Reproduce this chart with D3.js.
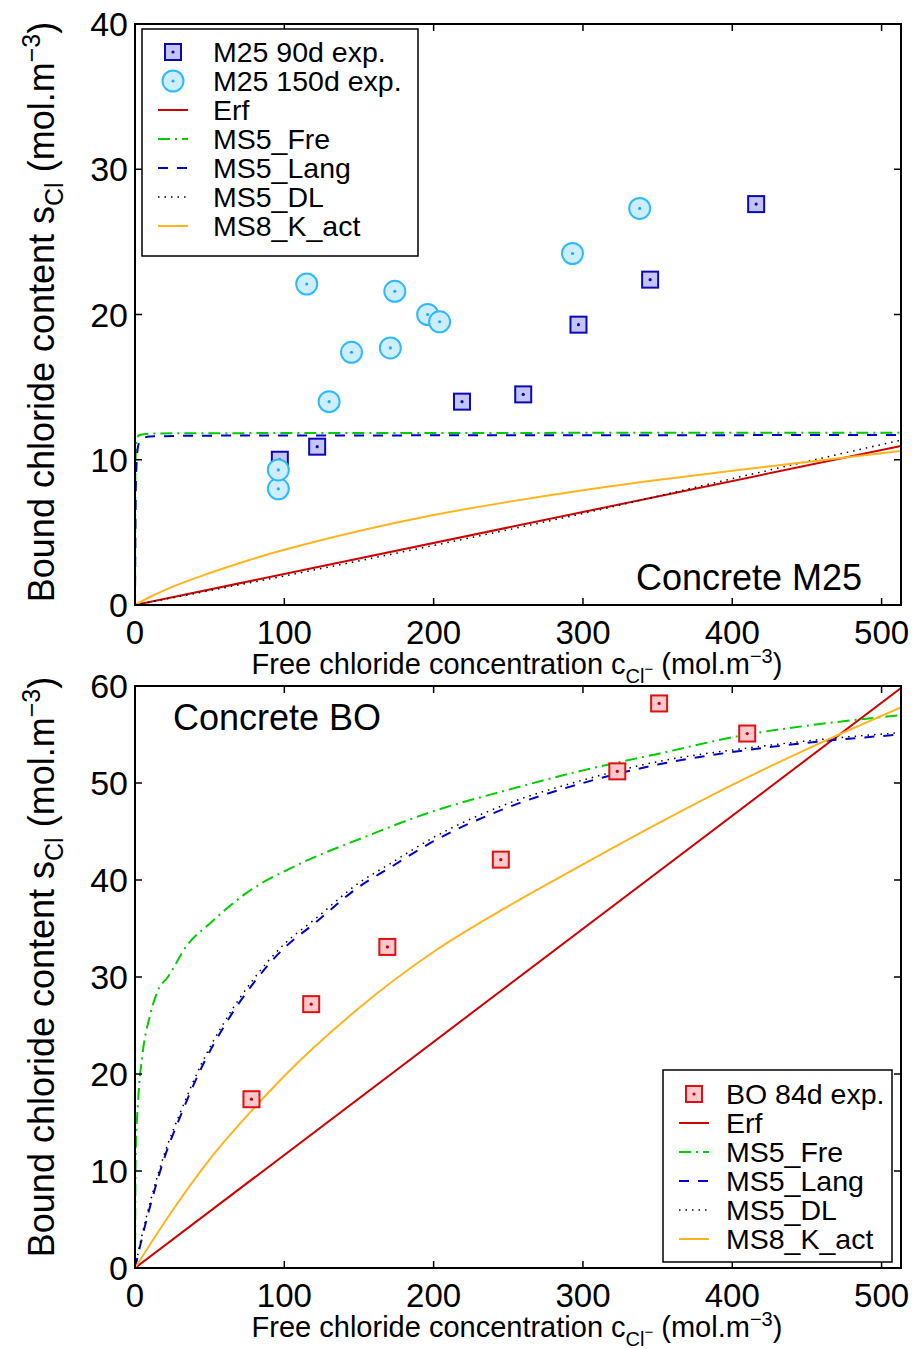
<!DOCTYPE html>
<html><head><meta charset="utf-8">
<script src="https://cdn.jsdelivr.net/npm/d3@7"></script>
<style>body{margin:0;background:#fff}svg{display:block}text{font-family:"Liberation Sans",Arial,Helvetica,sans-serif;fill:#000}</style>
</head><body>
<svg id="c" width="916" height="1349"></svg>
<script>
// ---------- data ----------
const xTicks = [0,100,200,300,400,500];
const yTicksTop = [0,10,20,30,40];
const yTicksBot = [0,10,20,30,40,50,60];

// top panel: Concrete M25
const m25_90d_x = [97,122,219,260,297,345,416];
const m25_90d_y = [10.0,10.9,14.0,14.5,19.3,22.4,27.6];
const m25_150d_x = [96,96,115,130,145,171,174,196,204,293,338];
const m25_150d_y = [8.0,9.3,22.1,14.0,17.4,17.7,21.6,20.0,19.5,24.2,27.3];

const topErf_x = [0,513];
const topErf_y = [0,10.95];
const topFre_x = [0,0.3,1,3,10,50,513];
const topFre_y = [0,9.5,11.4,11.7,11.8,11.83,11.86];
const topLang_x = [0,0.6,2,4,10,50,513];
const topLang_y = [0,8.5,10.9,11.4,11.6,11.66,11.7];
const topDL_x = [0,100,200,300,400,513];
const topDL_y = [0,2.0,4.1,6.3,8.7,11.35];
const topKact_x = [0,10,25,50,75,100,150,200,250,300,350,400,450,500,513];
const topKact_y = [0,0.55,1.25,2.2,3.05,3.8,5.1,6.2,7.1,7.9,8.6,9.25,9.85,10.45,10.6];

// bottom panel: Concrete BO
const bo84_x = [78,118,169,245,323,351,410];
const bo84_y = [17.4,27.2,33.1,42.1,51.2,58.2,55.1];

const botErf_x = [0,513];
const botErf_y = [0,59.8];
const botFre_x = [0,0.5,2,5,10,15,22,35,50,75,108,150,198,250,300,350,410,460,513];
const botFre_y = [0,12,17,22,26,28.5,30,33.3,35.5,38.7,41.5,44.2,47,49.3,51.3,53,55,56.1,57];
const botLang_x = [0,5,10,20,30,45,60,80,100,120,150,170,200,245,300,350,410,460,513];
const botLang_y = [0,3.3,6.3,11.5,15.5,20.8,25,29.5,33,35.5,39.3,41.2,44,47.2,50,51.9,53.4,54.3,55];
const botDL_x = [0,5,10,20,30,45,60,80,100,120,150,170,200,245,300,350,410,460,513];
const botDL_y = [0,3.6,6.7,11.9,15.9,21.2,25.4,29.9,33.4,35.9,39.7,41.6,44.4,47.6,50.3,52.2,53.6,54.5,55.2];
const botKact_x = [0,25,50,78,100,150,200,250,300,350,400,450,513];
const botKact_y = [0,5.9,11.2,16.2,19.8,26.8,32.6,37.3,41.6,45.8,49.8,53.5,57.8];

const legendTop = ["M25 90d exp.","M25 150d exp.","Erf","MS5_Fre","MS5_Lang","MS5_DL","MS8_K_act"];
const legendBot = ["BO 84d exp.","Erf","MS5_Fre","MS5_Lang","MS5_DL","MS8_K_act"];

// ---------- styles ----------
const styles = {
  Erf:{color:"#cc0000",dash:null},
  MS5_Fre:{color:"#00cc00",dash:"12,5,2,5"},
  MS5_Lang:{color:"#0000cc",dash:"10,9"},
  MS5_DL:{color:"#000000",dash:"1.5,5",width:1.5},
  MS8_K_act:{color:"#ffb41e",dash:null}
};
const sq90 = {stroke:"#0a0ab4",fill:"#c4c4f6",dot:"#0a0aa0"};
const circ150 = {stroke:"#30b8ff",fill:"#cdeeff",dot:"#20a8ff"};
const sqBO = {stroke:"#dd1111",fill:"#ffc8cc",dot:"#bb0000"};

const svg = d3.select("#c");
const X0=135, X1=901;
const x = d3.scaleLinear().domain([0,513]).range([X0,X1]);

function zip(xs,ys){return xs.map((v,i)=>[v,ys[i]]);}

function panel(id, top, bottom, yMax, yTicks, curves, markers){
  const y = d3.scaleLinear().domain([0,yMax]).range([bottom,top]);
  const g = svg.append("g");
  g.append("clipPath").attr("id","clip"+id).append("rect")
    .attr("x",X0).attr("y",top).attr("width",X1-X0).attr("height",bottom-top);
  const plot = g.append("g").attr("clip-path",`url(#clip${id})`);
  const line = d3.line().x(d=>x(d[0])).y(d=>y(d[1])).curve(d3.curveMonotoneX);
  curves.forEach(c=>{
    const s = styles[c.name];
    plot.append("path").attr("d",line(zip(c.xs,c.ys)))
      .attr("fill","none").attr("stroke",s.color).attr("stroke-width",s.width||2)
      .attr("stroke-dasharray",s.dash);
  });
  markers.forEach(m=>{
    const pts = zip(m.xs,m.ys);
    const mg = g.append("g");
    pts.forEach(p=>{
      if(m.shape==="square"){
        mg.append("rect").attr("x",x(p[0])-8).attr("y",y(p[1])-8).attr("width",16).attr("height",16)
          .attr("fill",m.st.fill).attr("stroke",m.st.stroke).attr("stroke-width",2);
      } else {
        mg.append("circle").attr("cx",x(p[0])).attr("cy",y(p[1])).attr("r",10.5)
          .attr("fill",m.st.fill).attr("stroke",m.st.stroke).attr("stroke-width",2);
      }
      mg.append("circle").attr("cx",x(p[0])).attr("cy",y(p[1])).attr("r",1.6).attr("fill",m.st.dot);
    });
  });
  // box
  g.append("rect").attr("x",X0).attr("y",top).attr("width",X1-X0).attr("height",bottom-top)
    .attr("fill","none").attr("stroke","#000").attr("stroke-width",2);
  // ticks inward
  const tl=7;
  xTicks.forEach(t=>{
    g.append("line").attr("x1",x(t)).attr("x2",x(t)).attr("y1",bottom).attr("y2",bottom-tl).attr("stroke","#000").attr("stroke-width",1.5);
    g.append("line").attr("x1",x(t)).attr("x2",x(t)).attr("y1",top).attr("y2",top+tl).attr("stroke","#000").attr("stroke-width",1.5);
    g.append("text").attr("x",x(t)).attr("y",bottom+39).attr("text-anchor","middle").attr("font-size",33).text(t);
  });
  yTicks.forEach(t=>{
    g.append("line").attr("x1",X0).attr("x2",X0+tl).attr("y1",y(t)).attr("y2",y(t)).attr("stroke","#000").attr("stroke-width",1.5);
    g.append("line").attr("x1",X1).attr("x2",X1-tl).attr("y1",y(t)).attr("y2",y(t)).attr("stroke","#000").attr("stroke-width",1.5);
    g.append("text").attr("x",128).attr("y",y(t)).attr("dy","0.36em").attr("text-anchor","end").attr("font-size",34).text(t);
  });
  return y;
}

function xLabel(yb){
  const t = svg.append("text").attr("x",517).attr("y",yb).attr("text-anchor","middle").attr("font-size",29);
  t.append("tspan").text("Free chloride concentration c");
  t.append("tspan").attr("font-size",20).attr("dy",9).text("Cl");
  t.append("tspan").attr("font-size",15).attr("dy",-9).text("−");
  t.append("tspan").attr("dy",0).text(" (mol.m");
  t.append("tspan").attr("font-size",20).attr("dy",-11).text("−3");
  t.append("tspan").attr("dy",11).text(")");
}
function yLabel(cy){
  const t = svg.append("text").attr("transform",`translate(54,${cy}) rotate(-90)`).attr("text-anchor","middle").attr("font-size",36);
  t.append("tspan").text("Bound chloride content s");
  t.append("tspan").attr("font-size",25).attr("dy",9).text("Cl");
  t.append("tspan").attr("dy",-9).text(" (mol.m");
  t.append("tspan").attr("font-size",25).attr("dy",-14).text("−3");
  t.append("tspan").attr("dy",14).text(")");
}

function legend(x0,x1,y0,y1,cy0,step,sx,tx,names,markerDefs){
  const g = svg.append("g");
  g.append("rect").attr("x",x0).attr("y",y0).attr("width",x1-x0).attr("height",y1-y0)
    .attr("fill","#fff").attr("stroke","#000").attr("stroke-width",1.5);
  names.forEach((n,i)=>{
    const cy = cy0+i*step;
    const md = markerDefs[n];
    if(md){
      if(md.shape==="square"){
        g.append("rect").attr("x",sx-8).attr("y",cy-8).attr("width",16).attr("height",16)
          .attr("fill",md.st.fill).attr("stroke",md.st.stroke).attr("stroke-width",2);
      } else {
        g.append("circle").attr("cx",sx).attr("cy",cy).attr("r",10.5)
          .attr("fill",md.st.fill).attr("stroke",md.st.stroke).attr("stroke-width",2);
      }
      g.append("circle").attr("cx",sx).attr("cy",cy).attr("r",1.6).attr("fill",md.st.dot);
    } else {
      const s = styles[n];
      g.append("line").attr("x1",sx-15).attr("x2",sx+15).attr("y1",cy).attr("y2",cy)
        .attr("stroke",s.color).attr("stroke-width",s.width||2).attr("stroke-dasharray",s.dash);
    }
    g.append("text").attr("x",tx).attr("y",cy).attr("dy","0.36em").attr("font-size",28.5).text(n);
  });
}

// ---------- top panel ----------
panel("T",24,605,40,yTicksTop,[
  {name:"Erf",xs:topErf_x,ys:topErf_y},
  {name:"MS5_Fre",xs:topFre_x,ys:topFre_y},
  {name:"MS5_Lang",xs:topLang_x,ys:topLang_y},
  {name:"MS5_DL",xs:topDL_x,ys:topDL_y},
  {name:"MS8_K_act",xs:topKact_x,ys:topKact_y}
],[
  {shape:"square",st:sq90,xs:m25_90d_x,ys:m25_90d_y},
  {shape:"circle",st:circ150,xs:m25_150d_x,ys:m25_150d_y}
]);
svg.append("text").attr("x",862).attr("y",590).attr("text-anchor","end").attr("font-size",36).text("Concrete M25");
legend(142,418,29,256,52,29,173,213,legendTop,{
  "M25 90d exp.":{shape:"square",st:sq90},
  "M25 150d exp.":{shape:"circle",st:circ150}
});
xLabel(674);
yLabel(312);

// ---------- bottom panel ----------
panel("B",686,1268,60,yTicksBot,[
  {name:"Erf",xs:botErf_x,ys:botErf_y},
  {name:"MS5_Fre",xs:botFre_x,ys:botFre_y},
  {name:"MS5_Lang",xs:botLang_x,ys:botLang_y},
  {name:"MS5_DL",xs:botDL_x,ys:botDL_y},
  {name:"MS8_K_act",xs:botKact_x,ys:botKact_y}
],[
  {shape:"square",st:sqBO,xs:bo84_x,ys:bo84_y}
]);
svg.append("text").attr("x",173).attr("y",730).attr("font-size",36).text("Concrete BO");
legend(663,892,1070,1262,1094,29,694,726,legendBot,{
  "BO 84d exp.":{shape:"square",st:sqBO}
});
xLabel(1337);
yLabel(967);
</script>
</body></html>
